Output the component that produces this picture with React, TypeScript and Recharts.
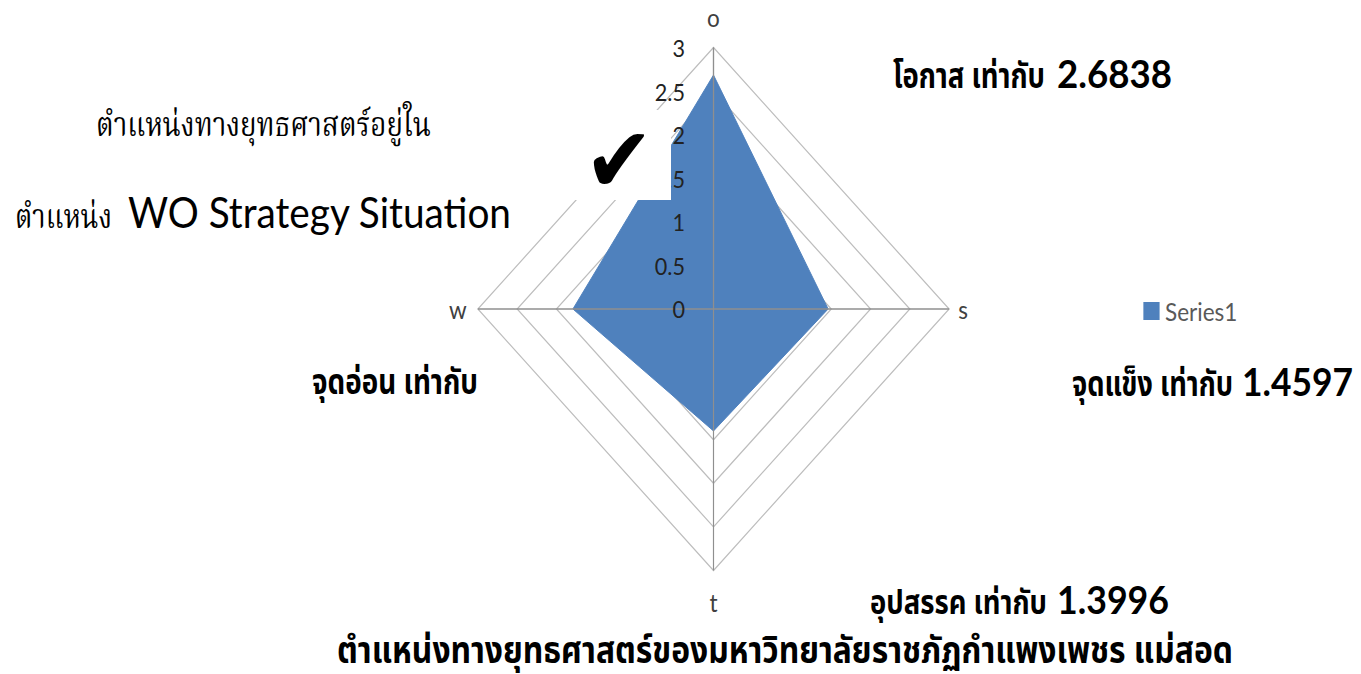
import React from 'react';
import { RadarChart, Radar, PolarGrid, PolarAngleAxis, PolarRadiusAxis, Legend } from 'recharts';

// SWOT scores
const axes = ['o', 's', 't', 'w'];
const series1 = [2.6838, 1.4597, 1.3996, 1.79];
const radiusTicks = [0, 0.5, 1, 1.5, 2, 2.5, 3];

const data = axes.map((axis, i) => ({ axis, Series1: series1[i] }));

// the source picture is squeezed horizontally, so everything is laid out
// in an unsqueezed frame and compressed at the end
const SX = 0.901;
const pre = (x: number) => x / SX;

const W = Math.round(pre(1361));
const H = 674;
const CX = pre(713.5);
const CY = 309;
const R = 261.5;

const BLUE = '#4f81bd';
const THAI_SANS = '"Noto Sans Thai", "Noto Sans Thai UI", Loma, Garuda, "Noto Sans", sans-serif';
const THAI_SERIF = '"Noto Serif Thai", Norasi, "Noto Serif", serif';
const LATIN = 'Lato, "Open Sans", sans-serif';

// tick lines run inward to the centre, so labels are placed from the centre
const labelShift: Record<string, [number, number]> = {
    o: [0, -291],
    s: [277, 1],
    t: [0, 294],
    w: [-283.6, 1],
};

const AngleTick = (props: any) => {
    const { x, y, payload } = props;
    const [dx, dy] = labelShift[payload.value] || [0, 0];
    return (
        <text x={x + dx} y={y + dy} textAnchor="middle" dominantBaseline="central"
            fontFamily={LATIN} fontSize={25} fill="#404040">
            {payload.value}
        </text>
    );
};

const RadiusTick = (props: any) => {
    const { x, y, payload } = props;
    return (
        <text x={x - pre(28.5)} y={y} textAnchor="end" dominantBaseline="central"
            fontFamily={LATIN} fontSize={24} fill="#222">
            {payload.value}
        </text>
    );
};

const LegendBox = () => (
    <div style={{ display: 'flex', alignItems: 'center', fontFamily: LATIN, fontSize: 25, color: '#595959', lineHeight: '26px' }}>
        <span style={{ display: 'inline-block', width: pre(17), height: 18, background: BLUE, marginRight: pre(5) }} />
        <span>Series1</span>
    </div>
);

// annotation: thai words then an optional bold number on one baseline (screen x / widths)
const Label = ({ x, w, y, size, family, weight, text, num, nx, nw, nsize }: any) => (
    <text y={y} fill="#000">
        <tspan x={pre(x)} textLength={pre(w)} lengthAdjust="spacingAndGlyphs"
            fontFamily={family} fontSize={size} fontWeight={weight}>{text}</tspan>
        {num && (
            <tspan x={pre(nx)} textLength={pre(nw)} lengthAdjust="spacingAndGlyphs"
                fontFamily={LATIN} fontSize={nsize} fontWeight={700}>{num}</tspan>
        )}
    </text>
);

export default function App() {
    return (
        <div style={{ position: 'absolute', left: 0, top: 0, width: 1361, height: H, overflow: 'hidden', background: '#fff' }}>
            <div style={{ position: 'absolute', left: 0, top: 0, width: W, height: H, transform: `scaleX(${SX})`, transformOrigin: '0 0' }}>
                <RadarChart width={W} height={H} data={data} cx={CX} cy={CY} outerRadius={R}
                    startAngle={90} endAngle={-270} margin={{ top: 0, right: 0, bottom: 0, left: 0 }}>
                    <PolarGrid gridType="polygon" radialLines={false} stroke="#bdbdbd" strokeWidth={1.3} />
                    <Radar dataKey="Series1" name="Series1" fill={BLUE} fillOpacity={1} stroke={BLUE}
                        isAnimationActive={false} />
                    <PolarAngleAxis dataKey="axis" tick={AngleTick} orientation="inner" tickSize={R}
                        tickLine={{ stroke: '#8f8f8f', strokeWidth: 1.3 }} axisLine={false} />
                    <PolarRadiusAxis angle={90} domain={[0, 3]} ticks={radiusTicks as any} tickCount={7}
                        tick={RadiusTick} tickLine={false} axisLine={{ stroke: '#8f8f8f', strokeWidth: 1.3 }} />
                    <Legend content={<LegendBox />}
                        wrapperStyle={{ position: 'absolute', left: pre(1143), top: 298, width: 'auto' }} />
                </RadarChart>

                <svg width={W} height={H} style={{ position: 'absolute', left: 0, top: 0 }}>
                    <rect x={pre(557)} y={110} width={pre(114)} height={90} fill="#fff" />
                    <text x={pre(619)} y={192} textAnchor="middle" fontFamily="DejaVu Sans" fontSize={92} fill="#000">✔</text>

                    <Label x={893} w={152} y={88} size={35} family={THAI_SANS} weight={700}
                        text="โอกาส เท่ากับ" num="2.6838" nx={1057} nw={115} nsize={39} />
                    <Label x={1072} w={161} y={396} size={35} family={THAI_SANS} weight={700}
                        text="จุดแข็ง เท่ากับ" num="1.4597" nx={1242} nw={111} nsize={39} />
                    <Label x={870} w={177} y={614} size={34} family={THAI_SANS} weight={700}
                        text="อุปสรรค เท่ากับ" num="1.3996" nx={1057} nw={112} nsize={38} />
                    <Label x={312} w={166} y={394} size={35} family={THAI_SANS} weight={700}
                        text="จุดอ่อน เท่ากับ" />

                    <Label x={337} w={896} y={663} size={38} family={THAI_SANS} weight={700}
                        text="ตำแหน่งทางยุทธศาสตร์ของมหาวิทยาลัยราชภัฏกำแพงเพชร แม่สอด" />

                    <Label x={96} w={335} y={136} size={34} family={THAI_SERIF} weight={400}
                        text="ตำแหน่งทางยุทธศาสตร์อยู่ใน" />
                    <text y={228} fill="#000">
                        <tspan x={pre(15)} textLength={pre(97)} lengthAdjust="spacingAndGlyphs"
                            fontFamily={THAI_SERIF} fontSize={34}>ตำแหน่ง</tspan>
                        <tspan x={pre(128)} textLength={pre(383)} lengthAdjust="spacingAndGlyphs"
                            fontFamily={LATIN} fontSize={42}>WO Strategy Situation</tspan>
                    </text>
                </svg>
            </div>
        </div>
    );
}
